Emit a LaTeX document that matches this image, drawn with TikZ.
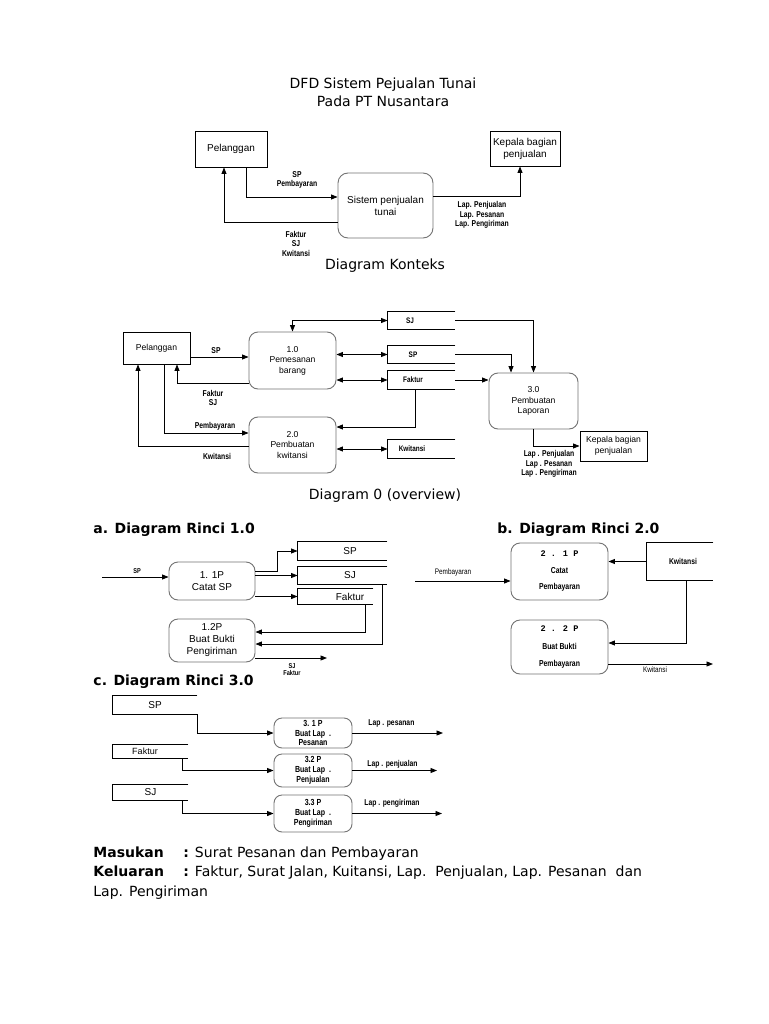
\documentclass[tikz,border=0pt]{standalone}
\usepackage{fontspec}
\setmainfont{DejaVu Sans}
\newfontfamily\arial{Liberation Sans}
\newfontfamily\arialn[FakeStretch=0.8]{Liberation Sans}
\newfontfamily\cour{Liberation Mono}
\usetikzlibrary{arrows.meta}
\begin{document}
\begin{tikzpicture}[x=1pt,y=-1pt,line width=0.9pt,
  >={Triangle[length=6.5pt,width=5pt]},
  ent/.style={draw,inner sep=0pt,align=center},
  proc/.style={draw=black!55,rounded corners=9pt,inner sep=0pt,align=center},
  ften/.style={font=\arial\fontsize{10}{12}\selectfont},
  fd/.style={font=\arial\fontsize{8.6}{10.5}\selectfont},
  lbl/.style={inner sep=0pt,align=center,font=\arialn\bfseries\fontsize{8.5}{9.5}\selectfont},
  lbll/.style={inner sep=0pt,align=center,font=\arialn\fontsize{8}{9}\selectfont},
  stz/.style={inner sep=0pt,minimum width=67pt,minimum height=17.5pt,font=\arialn\bfseries\fontsize{8}{9}\selectfont},
  sto/.style={inner sep=0pt,font=\arial\fontsize{10}{12}\selectfont},
  pr3/.style={proc,rounded corners=8pt,minimum width=78pt,font=\arialn\bfseries\fontsize{8.8}{9.8}\selectfont},
  pr2/.style={proc,minimum width=97pt,font=\arialn\bfseries\fontsize{8.6}{10}\selectfont},
  ttl/.style={inner sep=0pt,align=center,font=\fontsize{14}{18}\selectfont},
  hd/.style={inner sep=0pt,anchor=west,font=\bfseries\fontsize{14}{16}\selectfont},
  txt/.style={inner sep=0pt,anchor=base west,font=\fontsize{14}{17}\selectfont},
]
\fill[white] (0,0) rectangle (768,1024);
\useasboundingbox (0,0) rectangle (768,1024);

% ---------- Context diagram ----------
\node[ttl] (title) at (383,92) {DFD Sistem Pejualan Tunai\\Pada PT Nusantara};
\node[ent,ften,minimum width=72pt,minimum height=36pt] (pel) at (231,149) {Pelanggan};
\node[ent,ften,minimum width=70pt,minimum height=35pt] (kep) at (525,148.5) {Kepala bagian\\penjualan};
\node[proc,ften,rounded corners=10pt,minimum width=95pt,minimum height=65pt] (sys) at (385.5,205.5) {Sistem penjualan\\tunai};
\coordinate (a1) at (246,197);
\draw[->] (pel.south -| a1) |- (sys.west |- a1);
\coordinate (a2) at (224,222);
\draw[->] (sys.west |- a2) -| (pel.south -| a2);
\coordinate (a3) at (520,196);
\draw[->] (sys.east |- a3) -| (kep.south -| a3);
\node[lbl] (lsp) at (297,180) {SP\\Pembayaran};
\node[lbl] (lfk) at (296,243.5) {Faktur\\SJ\\Kwitansi};
\node[lbl] (llap) at (482,215) {Lap. Penjualan\\Lap. Pesanan\\Lap. Pengiriman};
\node[ttl] (dk) at (385,266) {Diagram Konteks};

% ---------- Diagram 0 ----------
\node[ent,fd,minimum width=67pt,minimum height=32pt] (pel0) at (156.5,348) {Pelanggan};
\node[proc,fd,minimum width=87pt,minimum height=57pt] (p1) at (292.5,360.5) {1.0\\Pemesanan\\barang};
\node[proc,fd,minimum width=87pt,minimum height=56pt] (p2) at (292.5,445) {2.0\\Pembuatan\\kwitansi};
\node[proc,fd,minimum width=89pt,minimum height=56pt] (p3) at (533.5,401) {3.0\\Pembuatan\\Laporan};
\node[ent,fd,minimum width=67pt,minimum height=30pt] (kep0) at (613.5,446) {Kepala bagian\\penjualan};
\node[stz] (sj0) at (421.5,320.5) {SJ\hspace*{23pt}};
\node[stz] (sp0) at (421.5,354.5) {SP\hspace*{17pt}};
\node[stz] (fk0) at (421.5,380) {Faktur\hspace*{17pt}};
\node[stz] (kw0) at (421.5,449) {Kwitansi\hspace*{19pt}};
\foreach \s in {sj0,sp0,fk0,kw0}
  \draw (\s.north east) -- (\s.north west) -- (\s.south west) -- (\s.south east);
\coordinate (b1) at (0,357);
\draw[->] (pel0.east |- b1) -- (p1.west |- b1);
\coordinate (b2) at (177,383);
\draw[->] (p1.west |- b2) -| (pel0.south -| b2);
\coordinate (b3) at (164,433);
\draw[->] (pel0.south -| b3) |- (p2.west |- b3);
\coordinate (b4) at (138,446);
\draw[->] (p2.west |- b4) -| (pel0.south -| b4);
\draw[<->] (p1.north) |- (sj0.west);
\draw[<->] (p1.east |- sp0.west) -- (sp0.west);
\draw[<->] (p1.east |- fk0.west) -- (fk0.west);
\coordinate (b5) at (415,427);
\draw[->] (fk0.south -| b5) |- (p2.east |- b5);
\draw[<->] (p2.east |- kw0.west) -- (kw0.west);
\draw[->] (sj0.east) -| (p3.north);
\coordinate (b6) at (511,0);
\draw[->] (sp0.east) -| (p3.north -| b6);
\draw[->] (fk0.east) -- (p3.west |- fk0.east);
\draw[->] (p3.south) |- (kep0.west);
\node[lbl] (l0a) at (216,351) {SP};
\node[lbl] (l0b) at (213,398) {Faktur\\SJ};
\node[lbl] (l0c) at (215,426) {Pembayaran};
\node[lbl] (l0d) at (217,456) {Kwitansi};
\node[lbl] (l0e) at (549,464) {Lap . Penjualan\\Lap . Pesanan\\Lap . Pengiriman};
\node[ttl] (d0) at (385,496) {Diagram 0 (overview)};

% ---------- Rinci 1.0 ----------
\node[hd] (ha) at (93,530) {a. Diagram Rinci 1.0};
\node[proc,ften,minimum width=86pt,minimum height=38pt] (p11) at (212,581) {1. 1P\\Catat SP};
\node[proc,ften,minimum width=86pt,minimum height=43pt] (p12) at (212,640.5) {1.2P\\Buat Bukti\\Pengiriman};
\node[sto,minimum width=89pt,minimum height=18pt] (sp1) at (342.5,551) {\hspace*{15pt}SP};
\node[sto,minimum width=89pt,minimum height=17pt] (sj1) at (342.5,575.5) {\hspace*{15pt}SJ};
\node[sto,minimum width=75pt,minimum height=15pt] (fk1) at (335.5,596.5) {\hspace*{29pt}Faktur};
\foreach \s in {sp1,sj1,fk1}
  \draw (\s.north east) -- (\s.north west) -- (\s.south west) -- (\s.south east);
\coordinate (c1) at (102,577);
\draw[->] (c1) -- (p11.west |- c1);
\node[lbl,font=\arialn\bfseries\fontsize{7}{8}\selectfont] (l1a) at (137,571) {SP};
\coordinate (c2) at (277,571);
\draw[->] (p11.east |- c2) -- (c2) |- (sp1.west);
\draw[->] (p11.east |- sj1.west) -- (sj1.west);
\draw[->] (p11.east |- fk1.west) -- (fk1.west);
\coordinate (c3) at (365,632);
\draw[->] (fk1.south -| c3) |- (p12.east |- c3);
\coordinate (c4) at (382,644);
\draw[->] (sj1.south -| c4) |- (p12.east |- c4);
\coordinate (c5) at (327,658);
\draw[->] (p12.east |- c5) -- (c5);
\node[lbl,font=\arialn\bfseries\fontsize{7}{7.5}\selectfont] (l1b) at (292,669.5) {SJ\\Faktur};

% ---------- Rinci 2.0 ----------
\node[hd] (hb) at (497,530) {b. Diagram Rinci 2.0};
\node[pr2,minimum height=57pt] (p21) at (559.5,571.5) {{\cour 2 . 1 P}\\[7pt]Catat\\[6pt]Pembayaran};
\node[pr2,minimum height=54pt] (p22) at (559.5,647) {{\cour 2 . 2 P}\\[8pt]Buat Bukti\\[7pt]Pembayaran};
\node[inner sep=0pt,minimum width=66pt,minimum height=37pt,font=\arialn\bfseries\fontsize{8.5}{10}\selectfont] (kw2) at (680,561.5) {\hspace*{6pt}Kwitansi};
\draw (kw2.north east) -- (kw2.north west) -- (kw2.south west) -- (kw2.south east);
\coordinate (e1) at (415,581);
\draw[->] (e1) -- (p21.west |- e1);
\node[lbll] (l2a) at (453,572) {Pembayaran};
\draw[->] (kw2.west) -- (p21.east |- kw2.west);
\coordinate (e2) at (686,643);
\draw[->] (kw2.south -| e2) |- (p22.east |- e2);
\coordinate (e3) at (713,664);
\draw[->] (p22.east |- e3) -- (e3);
\node[lbll] (l2b) at (655,670) {Kwitansi};

% ---------- Rinci 3.0 ----------
\node[hd] (hc) at (93,682) {c. Diagram Rinci 3.0};
\node[sto,minimum width=84pt,minimum height=18pt] (sp3) at (155,705) {SP};
\node[sto,font=\arial\fontsize{9}{11}\selectfont,minimum width=75pt,minimum height=13pt] (fk3) at (150.5,751.5) {Faktur\hspace*{11pt}};
\node[sto,minimum width=75pt,minimum height=15pt] (sj3) at (150.5,792.5) {SJ};
\foreach \s in {sp3,fk3,sj3}
  \draw (\s.north east) -- (\s.north west) -- (\s.south west) -- (\s.south east);
\node[pr3,minimum height=30pt] (p31) at (313,733) {3. 1 P\\Buat Lap \ .\\Pesanan};
\node[pr3,minimum height=33pt] (p32) at (313,770.5) {3.2 P\\Buat Lap \ .\\Penjualan};
\node[pr3,minimum height=37pt] (p33) at (313,813.5) {3.3 P\\Buat Lap \ .\\Pengiriman};
\draw[->] (sp3.south east) |- (p31.west);
\draw[->] ([xshift=-6.5pt]fk3.south east) |- (p32.west);
\draw[->] ([xshift=-6.5pt]sj3.south east) |- (p33.west);
\coordinate (g1) at (443,0);
\coordinate (g2) at (437,0);
\coordinate (g3) at (442,0);
\draw[->] (p31.east) -- (p31.east -| g1);
\draw[->] (p32.east) -- (p32.east -| g2);
\draw[->] (p33.east) -- (p33.east -| g3);
\node[lbl,anchor=west] (l3a) at (368,723) {Lap . pesanan};
\node[lbl,anchor=west] (l3b) at (367,764) {Lap . penjualan};
\node[lbl,anchor=west] (l3c) at (364,803) {Lap . pengiriman};

% ---------- Bottom text ----------
\node[txt,font=\bfseries\fontsize{14}{17}\selectfont] (mk) at (93,857) {Masukan};
\node[txt] (mkt) at (183,857) {\textbf{:} Surat Pesanan dan Pembayaran};
\node[txt,font=\bfseries\fontsize{14}{17}\selectfont] (kl) at (93,876) {Keluaran};
\node[txt] (klt) at (183,876) {\textbf{:} Faktur, Surat Jalan, Kuitansi, Lap.\ \ Penjualan, Lap. Pesanan\ \ dan};
\node[txt] (kl2) at (93,896) {Lap. Pengiriman};
\end{tikzpicture}
\end{document}
